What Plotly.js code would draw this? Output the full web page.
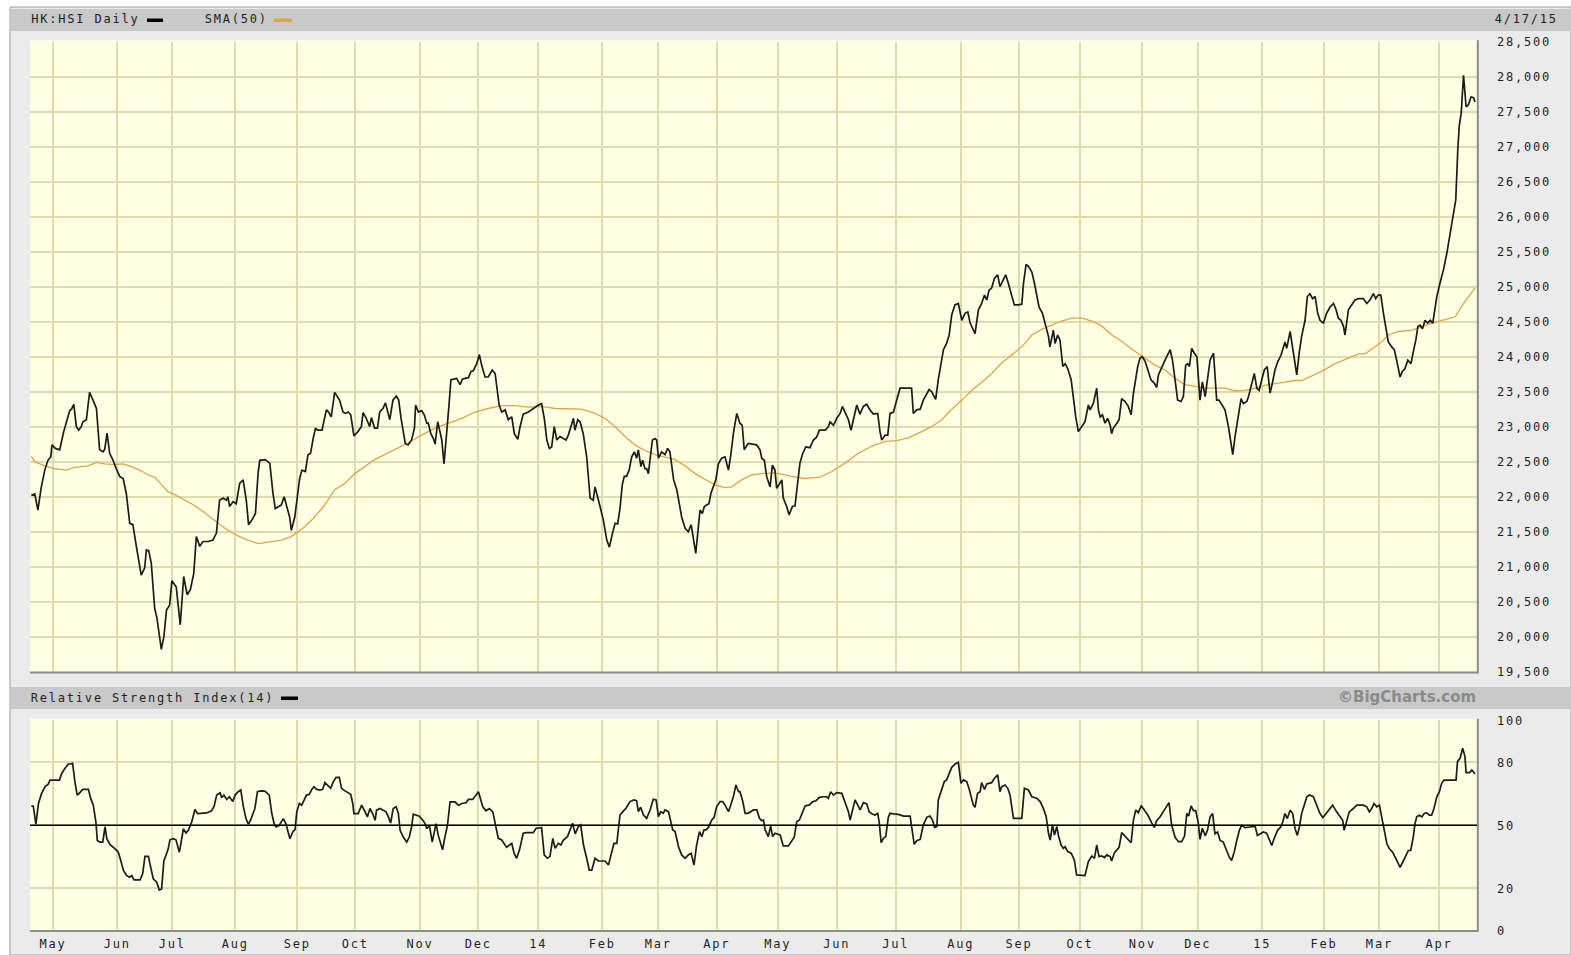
<!DOCTYPE html>
<html><head><meta charset="utf-8">
<script src="https://cdn.plot.ly/plotly-3.0.1.min.js"></script>
<style>
html,body{margin:0;padding:0;background:#fff;overflow:hidden;}
#chart{width:1571px;height:955px;}
#chart g.xtick text,#chart g.x2tick text,#chart g.ytick text,#chart g.y2tick text,#chart g.annotation text{letter-spacing:1.8px;}
#chart g.annotation[data-index="4"] text{letter-spacing:0px;}
</style></head><body><div id="chart"></div>
<script>
// ---- DATA (x = trading-session number, 0 = first session shown) ----
const priceDay = [0,1.2,2.3,3.5,4.7,5.8,6.8,7.2,8.4,9.9,11.3,12.8,13.4,14.0,14.8,15.7,16.5,17.4,18.0,19.2,20.3,21.5,22.7,23.8,25.0,25.6,26.4,27.3,28.5,29.6,30.8,32.0,33.1,34.3,35.4,36.6,38.3,39.5,40.1,40.9,41.8,43.0,43.8,45.3,46.2,47.1,48.2,49.0,50.5,51.9,53.1,54.3,55.4,56.6,57.5,58.7,59.8,61.6,63.3,64.5,65.6,66.8,68.0,68.5,69.1,70.3,71.4,72.6,73.8,74.9,75.7,76.9,78.1,79.0,79.6,81.5,83.1,84.2,85.0,86.2,87.1,88.1,88.9,90.0,90.6,91.8,92.7,93.5,94.3,95.5,96.4,97.3,98.2,99.0,99.7,101.3,102.8,103.6,104.5,105.7,107.4,108.6,109.4,110.4,111.3,112.4,113.8,115.0,115.6,116.7,117.9,118.5,119.6,120.6,121.4,122.5,123.4,124.9,126.0,127.2,128.0,128.9,130.3,131.3,
132.5,133.5,133.9,134.9,136.0,136.9,137.8,138.3,139.2,140.1,140.7,141.6,142.4,143.0,143.8,144.7,145.5,146.2,147.4,148.2,149.4,150.2,151.1,152.3,153.2,154.0,155.2,156.1,156.9,158.1,159.2,160.6,161.6,163.0,163.9,165.1,166.2,167.4,168.3,169.5,170.3,171.4,173.2,174.9,176.7,177.8,178.8,179.6,180.5,181.3,182.2,183.1,184.2,185.4,186.3,187.1,188.0,188.9,189.4,190.4,191.2,192.3,193.5,194.7,195.8,196.4,197.3,198.5,199.3,200.5,201.4,202.5,203.4,204.3,205.1,205.9,206.6,207.4,208.3,209.2,210.1,210.9,211.5,212.4,213.0,213.8,214.4,215.0,215.8,216.4,217.3,217.9,218.5,219.6,220.8,221.7,222.5,223.1,223.8,224.9,225.7,226.6,227.8,228.9,229.9,230.7,231.5,232.2,233.0,233.8,234.5,235.3,236.1,236.8,237.6,238.5,239.4,240.5,241.7,242.9,243.8,244.6,245.8,246.9,247.7,248.4,249.8,251.6,252.7,253.9,254.5,255.4,256.2,257.4,258.2,259.1,
259.7,260.5,261.5,262.0,263.2,264.0,265.2,266.1,266.9,267.8,268.7,269.8,271.3,272.5,273.6,274.6,276.6,277.7,278.3,279.5,280.6,281.8,282.6,283.8,284.7,285.6,286.4,287.6,288.7,289.9,291.1,292.2,293.4,294.9,295.7,296.3,297.5,298.4,299.2,300.4,300.9,302.1,302.7,306.7,307.3,308.5,309.7,310.8,312.0,312.8,313.7,315.1,316.0,317.0,317.8,318.9,319.8,320.7,321.8,323.0,324.2,325.3,326.3,327.1,328.2,328.8,330.0,331.1,332.1,332.9,333.7,334.6,335.6,336.7,337.5,338.3,339.5,340.4,341.6,342.5,343.9,345.1,345.7,346.6,347.4,348.6,349.5,350.3,351.1,352.3,353.4,354.4,354.9,356.1,356.7,357.6,358.4,359.4,360.2,361.1,362.3,363.1,363.9,364.8,366.0,367.1,368.3,368.9,370.0,371.2,371.8,372.4,373.2,374.1,375.0,375.9,376.4,377.0,378.2,379.0,379.9,381.1,382.2,383.2,384.0,384.8,385.5,386.3,387.1,388.1,
389.0,390.1,391.3,392.1,392.7,393.9,395.0,396.8,397.6,398.5,399.4,400.6,401.4,402.2,402.9,403.5,404.3,405.2,406.1,407.2,408.0,409.0,409.9,410.7,411.9,413.0,413.8,415.0,415.9,417.1,417.9,418.6,419.4,420.6,421.5,422.3,423.5,424.1,425.2,426.1,427.0,427.8,428.7,429.6,430.6,431.6,432.4,433.3,434.3,435.4,436.8,437.4,438.6,439.2,440.1,440.9,441.8,442.6,443.8,444.6,445.5,446.4,447.3,448.2,449.0,450.2,451.3,452.5,453.7,454.6,455.4,456.3,457.2,457.7,458.9,460.1,461.2,462.4,464.1,465.3,466.4,467.6,468.4,469.3,470.2,471.1,471.9,472.8,474.0,474.9,475.7,476.9,477.7,478.6,479.6,480.7,481.5,482.4,483.1,483.9,484.7,485.6,486.5,487.4,488.3,489.1,489.7,490.8,492.0,493.2,494.3,495.5,496.3,497.0,497.5,498.2,499.0,499.9,500.7,501.6,502.5,503.0];
const priceVal = [22020,22040,21810,22140,22380,22520,22570,22740,22690,22670,22930,23120,23230,23250,23320,23000,22950,23000,23070,23100,23490,23380,23260,22670,22640,22680,22910,22620,22520,22400,22290,22260,22050,21620,21600,21290,20880,20980,21240,21230,21050,20400,20260,19820,20000,20380,20450,20800,20710,20170,20860,20600,20670,20900,21430,21290,21360,21360,21380,21480,21950,21980,21950,22000,21860,21930,21900,22190,22240,21950,21600,21670,21760,22330,22520,22530,22480,22050,21830,21860,21880,22000,21880,21710,21520,21710,22000,22260,22380,22360,22600,22620,22830,22980,22950,22950,23240,23210,23140,23490,23380,23210,23190,23210,23170,22870,22930,23000,23200,23120,23000,23130,22980,22980,23210,23260,23340,23100,23380,23440,23380,23100,22760,22740,
22810,22980,23310,23210,23230,23170,23050,23050,22900,22830,22750,23070,22930,22810,22470,22860,23290,23670,23680,23690,23600,23680,23690,23700,23790,23800,23900,24030,23880,23710,23710,23810,23760,23310,23210,23240,23100,23140,22900,22820,23000,23180,23210,23260,23310,23330,23100,22810,22690,22710,23000,22810,22860,22830,22810,22880,23000,23120,22950,23100,23070,22900,22570,21980,21950,22140,22000,21810,21670,21380,21280,21480,21620,21610,21830,22170,22290,22290,22380,22570,22640,22550,22670,22430,22520,22400,22400,22330,22570,22810,22830,22810,22550,22640,22600,22690,22640,22430,22240,22100,21900,21710,21550,21500,21600,21380,21190,21480,21810,21760,21860,21880,21900,22050,22140,22240,22470,22550,22570,22380,22620,22900,23190,23050,23020,22670,22760,22750,22740,22670,22550,22520,22290,22140,22450,22380,
22120,22170,22240,21980,21860,21740,21860,21870,22190,22480,22610,22710,22700,22810,22850,22950,22950,23000,23070,23020,23120,23190,23290,23170,23100,22950,23100,23310,23180,23290,23320,23240,23180,23190,22930,22810,22880,22880,23190,23210,23290,23480,23550,23550,23190,23240,23250,23380,23480,23530,23500,23390,23670,23900,24100,24190,24310,24600,24740,24760,24520,24620,24640,24480,24380,24330,24670,24760,24880,24810,24950,24980,25120,25170,25000,25070,25170,25050,24860,24740,24740,24750,25050,25320,25290,25210,25050,24880,24710,24620,24450,24290,24140,24380,24190,24310,24240,23860,23900,23830,23670,23380,23140,22930,23000,23070,23310,23240,23330,23550,23240,23140,23170,23050,23120,23020,22900,22980,23050,23100,23400,23360,23290,23170,23480,23710,23860,23980,24000,23930,
23810,23670,23620,23560,23740,23860,23950,24100,23950,23670,23380,23360,23430,23880,23900,23860,24120,24050,24000,23380,23640,23430,23740,23950,24050,23380,23380,23290,23240,23000,22760,22600,22860,23140,23400,23330,23360,23430,23620,23760,23550,23520,23670,23810,23860,23480,23620,23810,23930,24020,24210,24120,24360,24190,23950,23740,24070,24290,24520,24860,24900,24830,24860,24620,24520,24480,24620,24710,24760,24670,24550,24520,24430,24310,24670,24740,24810,24830,24830,24760,24810,24900,24830,24880,24880,24620,24430,24210,24140,24100,23950,23710,23790,23830,23950,23900,24070,24240,24430,24450,24400,24520,24480,24520,24480,24670,24860,25050,25240,25480,25760,26050,26240,26950,27290,27480,28020,27570,27600,27710,27700,27640];

const smaDay = [0,1.2,4.7,8.1,12.2,15.1,19.8,22.7,25.6,29.1,32.0,34.9,38.3,40.7,43.0,45.3,47.6,50.0,52.3,55.8,59.2,62.2,65.1,68.5,72.0,75.5,79.0,82.5,87.1,90.6,92.9,95.3,98.7,102.2,105.7,109.2,112.7,116.2,119.6,123.1,126.6,131.3,136.0,140.7,145.3,150.0,154.6,159.2,163.9,168.5,173.2,177.8,182.5,187.1,191.8,196.4,199.9,203.4,206.9,210.3,213.8,217.3,220.8,224.3,227.8,231.3,234.7,238.2,241.7,244.0,247.5,251.0,254.5,259.1,264.9,269.6,274.8,278.9,283.5,288.2,292.8,297.5,301.5,305.6,310.2,313.7,317.2,320.7,324.2,327.7,331.1,334.6,338.1,341.6,345.1,348.6,352.0,355.5,359.0,362.5,366.0,369.5,372.9,376.4,379.9,383.4,388.1,391.5,395.0,398.5,402.0,405.5,409.0,413.6,415.9,419.4,422.9,426.4,431.0,435.7,440.3,442.6,446.1,449.6,454.3,458.9,462.4,464.7,468.2,470.5,472.8,476.3,481.0,484.4,487.9,492.6,496.1,499.5,503.0];
const smaVal = [22580,22500,22440,22400,22380,22420,22440,22490,22470,22460,22470,22430,22370,22310,22280,22170,22070,22030,21980,21900,21810,21710,21620,21520,21440,21380,21330,21350,21380,21430,21500,21570,21710,21880,22100,22190,22330,22430,22530,22600,22670,22770,22880,22980,23050,23120,23210,23260,23300,23300,23280,23290,23260,23250,23250,23190,23120,23000,22860,22740,22660,22600,22560,22530,22440,22330,22250,22170,22130,22140,22240,22310,22330,22340,22290,22260,22280,22360,22480,22620,22720,22790,22800,22840,22930,23000,23100,23250,23380,23520,23630,23760,23910,24020,24140,24310,24390,24450,24510,24550,24550,24510,24440,24310,24220,24110,23980,23880,23810,23690,23600,23570,23550,23550,23550,23510,23520,23550,23600,23630,23660,23660,23720,23790,23900,23980,24040,24040,24140,24210,24310,24360,24380,24430,24480,24530,24570,24790,24980];

const rsiDay = [0,0.7,1.6,2.5,3.6,4.8,5.9,6.5,9.8,10.6,11.7,12.9,13.7,14.4,15.2,16.0,16.7,17.9,19.9,20.7,21.6,22.5,23.0,23.9,24.9,25.7,26.3,27.4,29.2,30.3,31.1,32.1,33.2,34.2,35.0,35.8,37.9,38.8,39.6,40.8,41.6,42.5,43.7,44.6,45.4,46.2,46.9,47.7,48.3,49.5,50.4,51.6,52.4,53.0,53.9,54.7,55.9,57.0,57.9,59.4,61.1,62.8,63.7,64.6,65.8,66.3,67.1,68.1,69.0,70.2,71.0,72.1,73.0,73.9,74.8,75.6,76.4,77.9,78.8,79.9,81.4,82.9,83.8,84.6,85.3,86.4,87.2,87.8,88.7,89.6,90.1,91.1,91.9,92.5,93.4,94.2,95.0,95.9,96.9,97.7,98.5,99.4,100.6,101.5,102.3,103.5,104.3,105.2,106.2,107.3,108.1,109.3,110.5,111.3,112.0,112.4,113.9,115.1,116.3,117.1,118.0,118.9,119.8,120.3,121.5,122.7,123.6,124.4,125.2,126.1,127.1,127.9,128.5,129.6,130.8,131.7,132.5,133.1,134.0,135.2,136.4,137.2,137.8,138.7,139.7,140.3,141.0,141.8,142.4,143.3,144.1,145.0,145.9,147.6,148.8,150.0,151.5,152.3,153.8,154.6,155.8,156.3,157.3,158.4,159.6,160.8,161.6,
162.7,163.9,164.7,165.6,166.6,167.4,168.2,169.1,170.1,171.4,172.6,174.9,175.9,177.8,178.7,179.8,180.7,181.7,182.5,183.6,184.5,185.4,186.8,187.7,188.6,189.5,190.6,191.4,192.4,193.5,194.4,195.3,196.4,197.6,199.9,201.1,202.2,203.0,204.0,205.1,206.1,207.2,208.6,210.0,210.9,211.5,212.3,213.3,214.4,215.6,216.7,217.7,218.5,219.3,220.2,220.8,222.0,222.8,223.5,224.3,225.5,226.6,227.8,228.9,229.9,230.9,231.8,232.8,233.6,234.4,235.1,235.9,237.1,237.9,238.8,240.0,240.9,241.7,242.9,243.7,244.6,245.5,246.4,246.9,247.9,248.7,249.8,251.6,252.8,253.7,254.5,255.1,255.7,256.8,257.6,258.3,259.1,260.9,262.0,263.8,264.9,265.8,266.7,267.6,268.8,269.6,271.1,272.3,273.4,274.6,276.0,277.1,277.7,278.5,279.5,280.6,282.4,283.2,283.9,284.7,285.3,
286.1,287.0,287.9,288.8,289.9,291.1,291.9,293.0,294.0,294.9,295.4,296.1,296.9,297.7,298.6,299.2,300.4,302.1,303.9,306.2,306.8,307.6,308.5,309.7,310.8,312.0,313.1,314.0,314.7,315.5,316.0,317.2,318.1,318.9,319.8,320.7,321.9,323.0,323.9,324.8,325.9,326.7,328.2,328.8,329.7,330.6,331.1,332.1,332.9,334.6,335.6,336.7,337.5,338.1,339.3,340.2,341.0,342.2,345.1,346.0,347.4,348.6,350.3,351.5,352.6,353.6,354.4,355.0,355.8,356.5,357.3,357.9,358.8,359.6,360.2,361.1,362.3,363.4,364.2,367.1,368.3,369.5,370.4,371.2,372.0,373.0,373.9,374.7,375.9,376.4,377.4,378.2,379.0,379.9,381.1,382.5,383.2,384.0,384.8,385.7,386.7,387.8,389.0,390.4,391.3,392.1,393.3,394.4,395.6,396.4,397.3,398.5,399.7,400.8,401.8,402.6,403.2,404.1,404.9,405.7,406.6,407.2,408.0,409.0,
409.8,410.7,411.6,412.4,413.3,414.2,415.3,416.3,417.4,418.2,419.1,420.0,420.9,421.7,422.9,424.6,426.4,427.2,428.1,429.3,430.4,431.4,432.2,433.0,434.2,435.3,436.0,436.8,437.6,438.6,439.5,440.3,441.1,441.8,442.6,443.5,444.4,445.3,446.7,447.6,449.0,450.0,451.1,452.5,453.4,454.8,456.0,456.9,457.4,458.3,459.2,460.6,461.8,464.1,465.3,466.2,467.0,467.8,468.8,469.7,470.5,471.3,472.3,473.2,474.3,475.2,476.0,476.9,477.8,479.0,479.8,480.6,481.5,482.1,482.7,483.6,484.5,485.3,486.2,487.1,487.9,488.7,489.7,490.6,491.4,492.2,496.4,496.9,497.8,498.7,499.5,499.9,501.1,501.9,503.0];
const rsiVal = [59.1,59.1,50.5,60.4,65.2,68.4,69.6,71.5,71.5,74.7,77.1,79.2,79.2,79.5,70.7,64.4,65.2,67.1,67.1,62.8,59.6,51.6,42.8,42.0,42.0,49.2,43.6,40.9,38.8,37.2,33.6,28.5,26.1,25.3,26.1,24.0,24.0,26.9,35.2,35.2,30.1,24.5,22.9,19.2,19.7,33.2,35.6,38.8,43.1,43.6,43.1,37.2,43.6,48.4,46.3,47.6,51.6,57.5,55.6,55.9,55.9,56.9,59.1,64.4,65.5,63.2,64.4,62.3,63.6,61.3,64.4,66.0,66.8,58.8,53.2,50.5,52.4,58.0,66.0,66.4,66.3,64.4,55.6,50.8,49.2,50.0,51.6,53.2,50.8,46.8,43.6,46.8,47.9,56.4,60.4,59.6,62.3,64.4,64.8,67.1,68.4,67.1,66.8,67.1,70.3,68.4,67.6,70.7,72.8,72.8,67.6,66.4,65.2,64.8,60.4,55.6,55.6,59.6,56.4,54.0,58.0,55.6,52.4,57.2,58.0,57.2,56.4,54.0,51.1,58.0,58.8,55.6,47.6,44.4,42.0,44.4,49.2,55.3,54.8,54.3,52.4,50.8,48.4,50.0,42.0,46.8,50.8,45.2,42.0,38.3,44.4,50.0,61.2,61.2,59.6,60.4,60.7,62.3,62.3,63.9,66.0,63.6,58.8,56.9,58.0,56.4,50.8,
43.8,43.0,41.4,39.5,40.6,41.4,36.7,34.3,38.3,46.2,46.5,46.5,48.6,48.9,35.9,34.3,35.1,43.8,39.0,41.4,40.6,43.0,44.6,47.8,51.0,45.9,49.4,50.2,40.6,34.3,28.7,28.7,34.3,33.0,33.0,31.1,36.7,41.4,41.4,54.9,56.5,58.1,61.3,62.1,61.7,56.5,58.6,54.9,53.3,57.3,62.4,62.1,54.1,56.5,55.7,57.3,56.5,52.5,47.8,47.0,39.8,35.9,34.3,35.9,36.7,31.1,40.6,47.0,44.6,47.8,47.8,49.0,52.5,53.8,58.9,61.3,61.3,59.7,56.5,59.7,63.6,69.2,66.0,66.0,61.3,55.7,55.7,57.3,57.3,53.3,52.2,52.5,47.8,44.6,49.7,44.6,46.2,45.4,40.2,40.2,42.2,44.3,51.7,52.5,56.5,59.2,59.7,61.3,61.7,63.3,63.6,63.6,62.9,66.0,64.4,65.6,65.2,62.1,58.9,56.5,52.5,
57.3,62.1,59.7,57.3,60.8,60.2,56.5,55.4,54.9,55.7,51.7,41.7,43.8,44.6,53.8,55.7,55.4,55.2,54.4,54.4,48.6,41.0,42.7,43.3,50.2,53.8,54.4,52.5,49.0,49.4,62.1,67.6,70.8,71.6,74.8,77.6,79.2,80.0,70.0,71.6,70.8,67.6,59.7,58.6,65.2,66.0,70.3,67.1,69.7,70.3,72.4,74.0,66.0,68.4,69.2,67.6,64.4,53.3,53.3,67.6,66.8,63.6,62.9,61.3,58.1,54.1,46.2,43.0,50.2,45.4,49.4,44.9,40.6,39.0,39.8,37.5,36.7,33.5,26.4,26.0,32.7,35.4,34.3,40.6,35.1,35.4,34.6,35.9,35.1,33.0,37.0,38.3,39.5,46.5,44.9,43.0,41.7,52.5,57.3,56.0,59.2,57.3,54.9,51.0,49.0,52.2,54.1,56.5,59.2,60.8,50.2,44.3,42.2,42.2,44.9,55.7,54.4,59.2,57.0,57.0,51.0,43.3,48.6,45.0,
47.6,54.0,55.6,46.0,46.8,42.8,42.0,38.8,34.8,33.2,37.2,42.8,47.6,50.0,48.9,49.2,49.5,45.2,46.0,46.8,46.3,42.8,40.4,43.6,47.6,49.2,51.6,55.6,53.2,57.2,55.6,48.4,45.2,49.2,55.6,59.6,63.6,64.4,63.6,60.4,55.6,53.7,55.6,58.0,59.6,56.4,54.0,52.4,47.6,51.6,56.4,58.0,59.6,59.6,58.8,56.4,58.0,60.4,58.8,59.6,54.0,47.6,41.2,38.8,37.2,34.8,32.4,30.0,32.4,35.6,38.0,38.0,44.4,50.8,54.0,54.8,54.0,55.6,55.9,54.8,54.8,58.0,63.6,66.0,70.0,71.5,71.5,80.3,81.9,86.7,82.7,75.1,75.1,76.3,74.4];

const monthDay = [7.56,29.97,49.13,71.08,92.68,112.89,135.44,155.75,176.66,198.95,218.47,238.82,260.07,280.63,301.18,323.83,344.15,365.4,387.11,406.41,428.92,450.42,469.69,490.49];
const monthLabel = ['May','Jun','Jul','Aug','Sep','Oct','Nov','Dec','14','Feb','Mar','Apr','May','Jun','Jul','Aug','Sep','Oct','Nov','Dec','15','Feb','Mar','Apr'];
const priceRange = [19500, 28500];
const rsiTicks = [0, 20, 50, 80, 100];
const rsiMid = 50;
const titleMain = 'HK:HSI Daily';
const titleSma = 'SMA(50)';
const titleDate = '4/17/15';
const titleRsi = 'Relative Strength Index(14)';
const brand = '©BigCharts.com';

// ---- LAYOUT (pixel geometry of the page) ----
const W = 1571, H = 955;
const px = x => x / W, py = y => 1 - y / H;
const plotL = 30, plotR = 1477;
const pTop = 41.7, pBot = 671.7, rTop = 720.3, rBot = 930.3;
const xRange = [-0.45, 503.7];
const mono = 'DejaVu Sans Mono, monospace';
const gridCol = '#dcdcae';
const txtCol = '#1e1e1e';
const LS = 1.8; // letter spacing (px) used by the monospace texts

const traces = [
  {x: smaDay, y: smaVal, type: 'scatter', mode: 'lines', xaxis: 'x', yaxis: 'y',
   line: {color: '#e0a545', width: 1.3}, hoverinfo: 'skip'},
  {x: priceDay, y: priceVal, type: 'scatter', mode: 'lines', xaxis: 'x', yaxis: 'y',
   line: {color: '#1c1c1c', width: 1.7}, hoverinfo: 'skip'},
  {x: rsiDay, y: rsiVal, type: 'scatter', mode: 'lines', xaxis: 'x2', yaxis: 'y2',
   line: {color: '#1c1c1c', width: 1.7}, hoverinfo: 'skip'}
];

function rect(x0, y0, x1, y1, fill, line) {
  return {type: 'rect', xref: 'paper', yref: 'paper', x0: px(x0), x1: px(x1), y0: py(y1), y1: py(y0),
    fillcolor: fill, line: line || {width: 0}, layer: 'below'};
}
function seg(x0, y0, x1, y1, color, width) {
  return {type: 'line', xref: 'paper', yref: 'paper', x0: px(x0), x1: px(x1), y0: py(y0), y1: py(y1),
    line: {color: color, width: width}, layer: 'above'};
}

const shapes = [
  rect(10, 7, 1571, 955, '#ebebeb', {color: '#9c9c9c', width: 1}),
  rect(11, 9, 1571, 31, '#c9c9c9'),
  rect(11, 687, 1571, 709, '#c9c9c9'),
  rect(plotL, pTop - 1.5, plotR, pBot, '#ffffe4'),
  rect(plotL, rTop - 1.5, plotR, rBot, '#ffffe4'),
  seg(plotL, pBot + 0.8, plotR + 1, pBot + 0.8, '#8c8c8c', 2),
  seg(plotR + 0.8, pTop - 1.5, plotR + 0.8, pBot + 1.5, '#8c8c8c', 2),
  seg(plotL, rBot + 0.8, plotR + 1, rBot + 0.8, '#8c8c8c', 2),
  seg(plotR + 0.8, rTop - 1.5, plotR + 0.8, rBot + 1.5, '#8c8c8c', 2),
  {type: 'line', xref: 'paper', yref: 'y2', x0: px(plotL), x1: px(plotR), y0: rsiMid, y1: rsiMid,
   line: {color: '#000', width: 1.5}, layer: 'above'},
  rect(147, 18.5, 163, 22, '#000'),
  rect(274, 18.5, 292, 22, '#dfa445'),
  rect(281, 696.5, 298, 700, '#000')
];

// monospace annotations: the CSS letter spacing widens the text around its centre,
// so the left position is shifted by half of the added width
const ann = (text, x, y) => ({text: text, x: px(x + text.length * LS / 2), y: py(y), xref: 'paper', yref: 'paper',
  xanchor: 'left', yanchor: 'middle', showarrow: false, font: {family: mono, size: 12, color: txtCol}});

const layout = {
  width: W, height: H, margin: {l: 0, r: 0, t: 0, b: 0, pad: 0},
  paper_bgcolor: '#ffffff', plot_bgcolor: 'rgba(0,0,0,0)',
  showlegend: false, hovermode: false,
  xaxis: {domain: [px(plotL), px(plotR)], range: xRange, anchor: 'y', tickvals: monthDay,
    showticklabels: false, ticks: '', showgrid: true, gridcolor: gridCol, gridwidth: 2,
    zeroline: false, showline: false, fixedrange: true},
  yaxis: {domain: [py(pBot), py(pTop)], range: priceRange, side: 'right', anchor: 'x', dtick: 500, tick0: 19500,
    tickformat: ',d', ticks: '', ticklabelstandoff: 19, showgrid: true, gridcolor: gridCol, gridwidth: 2,
    zeroline: false, showline: false, tickfont: {family: mono, size: 12, color: txtCol}, fixedrange: true},
  xaxis2: {domain: [px(plotL), px(plotR)], range: xRange, anchor: 'y2', tickvals: monthDay, ticktext: monthLabel,
    ticks: '', ticklabelstandoff: 5, showgrid: true, gridcolor: gridCol, gridwidth: 2, zeroline: false, showline: false,
    tickfont: {family: mono, size: 12, color: txtCol}, fixedrange: true},
  yaxis2: {domain: [py(rBot), py(rTop)], range: [0, 100], side: 'right', anchor: 'x2', tickvals: rsiTicks,
    ticks: '', ticklabelstandoff: 19, showgrid: true, gridcolor: gridCol, gridwidth: 2, zeroline: false, showline: false,
    tickfont: {family: mono, size: 12, color: txtCol}, fixedrange: true},
  shapes: shapes,
  annotations: [
    ann(titleMain, 29, 19.5),
    ann(titleSma, 203, 19.5),
    ann(titleDate, 1493, 19.5),
    ann(titleRsi, 29, 697.5),
    {text: '<b>' + brand + '</b>', x: px(1478), y: py(697), xref: 'paper', yref: 'paper', xanchor: 'right',
     yanchor: 'middle', showarrow: false, font: {family: 'DejaVu Sans, sans-serif', size: 15, color: '#8a8a8a'}}
  ]
};

Plotly.newPlot('chart', traces, layout, {staticPlot: true, displayModeBar: false});
</script></body></html>
